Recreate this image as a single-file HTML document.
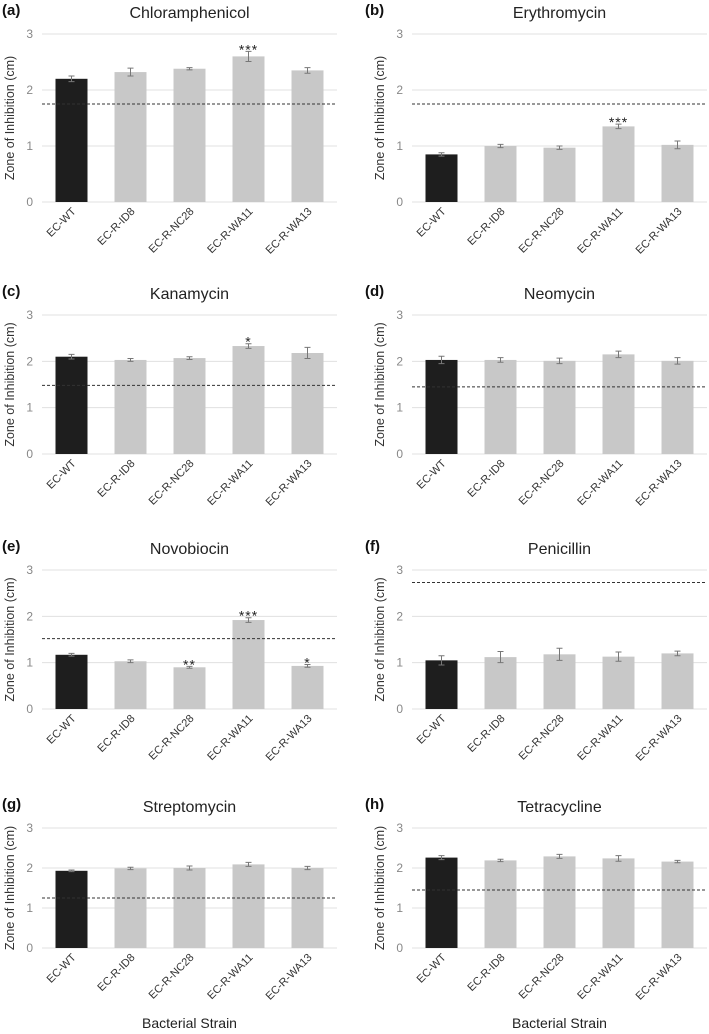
<!DOCTYPE html>
<html><head><meta charset="utf-8"><style>
html,body{margin:0;padding:0;background:#fff;}
svg{display:block;font-family:"Liberation Sans",sans-serif;}
</style></head><body>
<svg id="fig" width="709" height="1034" viewBox="0 0 709 1034" xmlns="http://www.w3.org/2000/svg"></svg>
<script>
const categories = ["EC-WT","EC-R-ID8","EC-R-NC28","EC-R-WA11","EC-R-WA13"];
const panelLetters = ["(a)","(b)","(c)","(d)","(e)","(f)","(g)","(h)"];
const panelTitles = ["Chloramphenicol","Erythromycin","Kanamycin","Neomycin","Novobiocin","Penicillin","Streptomycin","Tetracycline"];
const valuesA = [2.2,2.32,2.38,2.6,2.35];
const valuesB = [0.85,1.0,0.97,1.35,1.02];
const valuesC = [2.1,2.03,2.07,2.33,2.18];
const valuesD = [2.03,2.03,2.01,2.15,2.01];
const valuesE = [1.17,1.03,0.9,1.92,0.93];
const valuesF = [1.05,1.12,1.18,1.13,1.2];
const valuesG = [1.93,1.99,2.0,2.09,2.0];
const valuesH = [2.26,2.19,2.29,2.24,2.16];
const errorsA = [0.05,0.07,0.02,0.09,0.05];
const errorsB = [0.03,0.03,0.03,0.04,0.07];
const errorsC = [0.05,0.03,0.03,0.05,0.12];
const errorsD = [0.08,0.05,0.06,0.07,0.07];
const errorsE = [0.03,0.03,0.02,0.05,0.03];
const errorsF = [0.1,0.12,0.13,0.1,0.05];
const errorsG = [0.02,0.03,0.05,0.05,0.04];
const errorsH = [0.05,0.03,0.05,0.07,0.03];
const thresholds = [1.75,1.75,1.48,1.45,1.52,2.73,1.25,1.45];
const starsA = ["","","","***",""];
const starsB = ["","","","***",""];
const starsC = ["","","","*",""];
const starsD = ["","","","",""];
const starsE = ["","","**","***","*"];
const starsF = ["","","","",""];
const starsG = ["","","","",""];
const starsH = ["","","","",""];
const yTicks = [0,1,2,3];

const allValues=[valuesA,valuesB,valuesC,valuesD,valuesE,valuesF,valuesG,valuesH];
const allErrors=[errorsA,errorsB,errorsC,errorsD,errorsE,errorsF,errorsG,errorsH];
const allStars=[starsA,starsB,starsC,starsD,starsE,starsF,starsG,starsH];

const NS="http://www.w3.org/2000/svg";
const svg=document.getElementById('fig');
function mk(tag,attrs,parent,text){const e=document.createElementNS(NS,tag);for(const k in attrs)e.setAttribute(k,attrs[k]);if(text!==undefined)e.textContent=text;(parent||svg).appendChild(e);return e;}

const rowTop=[34,315,570,828];
const rowH=[168,139,139,120];
const colX=[42,412];
const plotW=295;
const letterX=[2,365];

for(let p=0;p<8;p++){
  const row=Math.floor(p/2), col=p%2;
  const x0=colX[col], yTop=rowTop[row], plotH=rowH[row], yBot=yTop+plotH;
  const g=mk('g',{});
  
  
  const yS=v=>yBot-v/3*plotH;
  const band=plotW/categories.length;
  const xS=i=>x0+band*(i+0.5);
  const lt=mk('text',{x:letterX[col],y:yTop-19,'font-size':15,'font-weight':'bold',fill:'#111'},g,panelLetters[p]);
  
  
  const tt=mk('text',{x:x0+plotW/2,y:yTop-16,'font-size':16,'text-anchor':'middle',fill:'#222'},g,panelTitles[p]);
  
  
  yTicks.forEach(t=>{
    const gl=mk('line',{x1:x0,x2:x0+plotW,y1:yS(t),y2:yS(t),stroke:'#e0e0e0','stroke-width':1},g);
    
    
    const tl=mk('text',{x:x0-9,y:yS(t)+4,'font-size':12,'text-anchor':'end',fill:'#888'},g,String(t));
    
    
  });
  const yt=mk('text',{x:0,y:0,'font-size':12.5,'text-anchor':'middle',fill:'#333',transform:`translate(${x0-28},${(yTop+yBot)/2}) rotate(-90)`},g,'Zone of Inhibition (cm)');
  
  
  const vals=allValues[p], errs=allErrors[p], st=allStars[p];
  const bw=32;
  vals.forEach((v,i)=>{
    const r=mk('rect',{x:xS(i)-bw/2,y:yS(v),width:bw,height:yBot-yS(v),fill:i===0?'#1e1e1e':'#c8c8c8'},g);
    
    
    const e=errs[i];
    const eb=mk('path',{d:`M${xS(i)-3},${yS(v+e)}H${xS(i)+3}M${xS(i)},${yS(v+e)}V${yS(v-e)}M${xS(i)-3},${yS(v-e)}H${xS(i)+3}`,stroke:'#777','stroke-width':1,fill:'none'},g);
    
    
    if(st[i]){
      const s=mk('text',{x:xS(i),y:yS(v+e)+3,'font-size':14,'text-anchor':'middle',fill:'#222','letter-spacing':1},g,st[i]);
      
      
    }
    const xl=mk('text',{x:0,y:0,'font-size':11,'text-anchor':'end',fill:'#333',transform:`translate(${xS(i)+5},${yBot+10}) rotate(-45)`},g,categories[i]);
    
    
  });
  const dl=mk('line',{x1:x0,x2:x0+plotW,y1:yS(thresholds[p]),y2:yS(thresholds[p]),stroke:'#333','stroke-width':1,'stroke-dasharray':'3,2'},g);
  
  
}
[0,1].forEach(c=>{
  const t=mk('text',{x:colX[c]+plotW/2,y:1028,'font-size':14,'text-anchor':'middle',fill:'#222'},svg,'Bacterial Strain');
  
  
});
</script>
</body></html>
